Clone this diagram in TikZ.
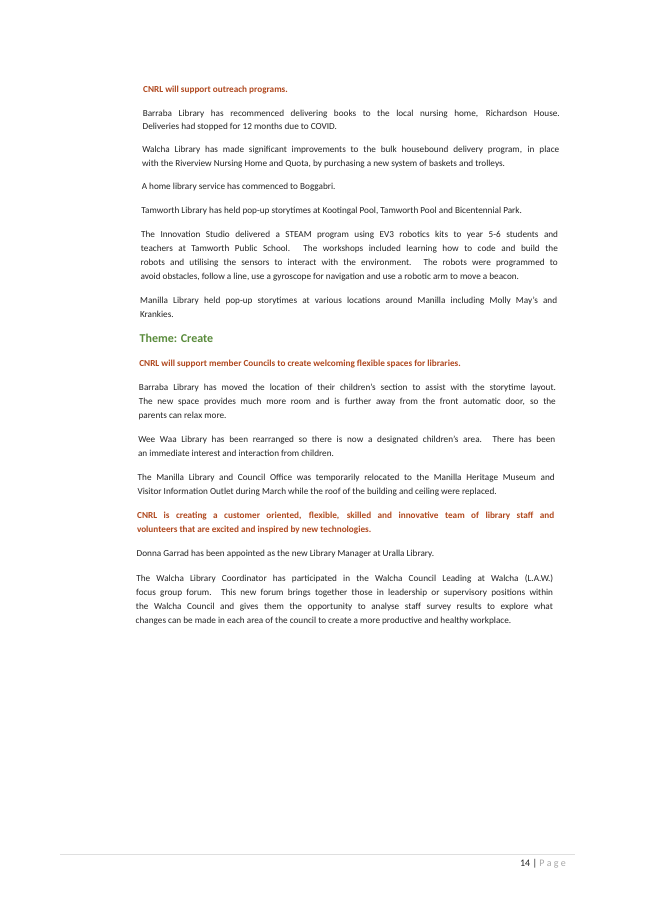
\documentclass[tikz,border=0pt]{standalone}
\usepackage{fontspec}
\setmainfont{Carlito}
\definecolor{hd}{RGB}{176,72,30}
\definecolor{th}{RGB}{90,140,60}
\definecolor{tx}{RGB}{35,35,35}
\begin{document}
\begin{tikzpicture}[x=1pt,y=-1pt,
 ln/.style={anchor=base west,inner sep=0pt,text=tx,font=\fontsize{9.2}{11}\selectfont},
 hdl/.style={anchor=base west,inner sep=0pt,text=hd,font=\fontsize{9.2}{11}\selectfont\bfseries},
 thl/.style={anchor=base west,inner sep=0pt,text=th,font=\fontsize{12}{14}\selectfont\bfseries}]
\useasboundingbox (0,0) rectangle (645,919);
\fill[white] (0,0) rectangle (645,919);
\newcommand{\J}[1]{\makebox[417pt][s]{#1}}
\begin{scope}[rotate around={-0.8:(143,90)}]
\node[hdl] (h1) at (143,92) {CNRL will support outreach programs.};
\node[ln] (a1) at (143,116) {\J{Barraba Library has recommenced delivering books to the local nursing home, Richardson House.}};
\node[ln] (a2) at (143,130) {Deliveries had stopped for 12 months due to COVID.};
\node[ln] (b1) at (143,153) {\J{Walcha Library has made significant improvements to the bulk housebound delivery program, in place}};
\node[ln] (b2) at (143,167) {with the Riverview Nursing Home and Quota, by purchasing a new system of baskets and trolleys.};
\node[ln] (c1) at (143,190) {A home library service has commenced to Boggabri.};
\node[ln] (d1) at (143,214) {Tamworth Library has held pop-up storytimes at Kootingal Pool, Tamworth Pool and Bicentennial Park.};
\node[ln] (e1) at (143,238) {\J{The Innovation Studio delivered a STEAM program using EV3 robotics kits to year 5-6 students and}};
\node[ln] (e2) at (143,252) {\J{teachers at Tamworth Public School. The workshops included learning how to code and build the}};
\node[ln] (e3) at (143,266) {\J{robots and utilising the sensors to interact with the environment. The robots were programmed to}};
\node[ln] (e4) at (143,280) {avoid obstacles, follow a line, use a gyroscope for navigation and use a robotic arm to move a beacon.};
\node[ln] (f1) at (143,304) {\J{Manilla Library held pop-up storytimes at various locations around Manilla including Molly May's and}};
\node[ln] (f2) at (143,318) {Krankies.};
\node[thl] (t1) at (143,343) {Theme: Create};
\node[hdl] (h2) at (143,367) {CNRL will support member Councils to create welcoming flexible spaces for libraries.};
\node[ln] (g1) at (143,391) {\J{Barraba Library has moved the location of their children's section to assist with the storytime layout.}};
\node[ln] (g2) at (143,405) {\J{The new space provides much more room and is further away from the front automatic door, so the}};
\node[ln] (g3) at (143,419) {parents can relax more.};
\node[ln] (i1) at (143,443) {\J{Wee Waa Library has been rearranged so there is now a designated children's area. There has been}};
\node[ln] (i2) at (143,457) {an immediate interest and interaction from children.};
\node[ln] (k1) at (143,481) {\J{The Manilla Library and Council Office was temporarily relocated to the Manilla Heritage Museum and}};
\node[ln] (k2) at (143,495) {Visitor Information Outlet during March while the roof of the building and ceiling were replaced.};
\node[hdl] (h3) at (143,519) {\J{CNRL is creating a customer oriented, flexible, skilled and innovative team of library staff and}};
\node[hdl] (h3b) at (143,533) {volunteers that are excited and inspired by new technologies.};
\node[ln] (m1) at (143,557) {Donna Garrad has been appointed as the new Library Manager at Uralla Library.};
\node[ln] (n1) at (143,582) {\J{The Walcha Library Coordinator has participated in the Walcha Council Leading at Walcha (L.A.W.)}};
\node[ln] (n2) at (143,596) {\J{focus group forum. This new forum brings together those in leadership or supervisory positions within}};
\node[ln] (n3) at (143,610) {\J{the Walcha Council and gives them the opportunity to analyse staff survey results to explore what}};
\node[ln] (n4) at (143,624) {changes can be made in each area of the council to create a more productive and healthy workplace.};
\end{scope}
\draw[gray!25,line width=0.5pt] (60,854) -- (575,854);
\node[anchor=base east,inner sep=0pt,font=\fontsize{10}{12}\selectfont] (pg) at (566,866) {\textcolor{tx}{14 |} \textcolor{gray!70}{P a g e}};
\end{tikzpicture}
\end{document}
